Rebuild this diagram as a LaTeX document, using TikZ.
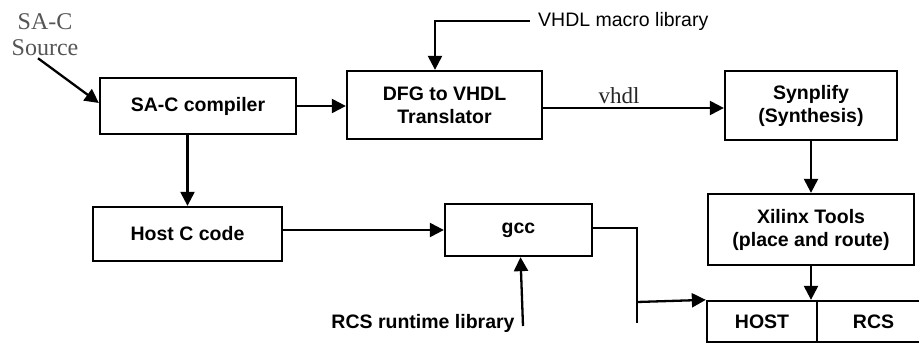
\documentclass[tikz,border=0pt]{standalone}
\usepackage{fontspec}
\setmainfont{Liberation Serif}
\setsansfont{Liberation Sans}
\usetikzlibrary{arrows.meta}
\definecolor{srcgray}{HTML}{555555}
\begin{document}
\begin{tikzpicture}[x=1pt,y=-1pt,
  boxn/.style={draw=black,line width=2.3pt,rectangle,inner sep=0pt,align=center,
    font=\sffamily\bfseries\fontsize{19.5}{23}\selectfont},
  lbl/.style={font=\sffamily\bfseries\fontsize{19.5}{23}\selectfont,inner sep=0pt},
  arr/.style={line width=2.3pt,-{Triangle[length=14pt,width=14pt]}},
  ln/.style={line width=2.3pt}]
\clip (0,0) rectangle (919,343);
\fill[white] (0,0) rectangle (919,343);
% source text
\node[font=\rmfamily\fontsize{24}{26}\selectfont,text=srcgray,align=center,inner sep=0pt] (src) at (45,35) {SA-C\\Source};
% boxes
\node[boxn,minimum width=196pt,minimum height=56pt] (sac) at (198,106) {SA-C compiler};
\node[boxn,minimum width=195pt,minimum height=68pt] (dfg) at (444.5,105) {DFG to VHDL\\Translator};
\node[boxn,minimum width=172pt,minimum height=69pt] (syn) at (811,105.5) {Synplify\\(Synthesis)};
\node[boxn,minimum width=206pt,minimum height=71pt] (xil) at (811,229.5) {Xilinx Tools\\(place and route)};
\node[boxn,minimum width=189pt,minimum height=54pt] (hostc) at (187.5,234) {Host C code};
\node[boxn,minimum width=147pt,minimum height=52pt] (gcc) at (518.5,230) {gcc};
\node[boxn,minimum width=110pt,minimum height=41pt] (hostb) at (762,321.5) {HOST};
\node[boxn,minimum width=113pt,minimum height=41pt] (rcsb) at (873.5,321.5) {RCS};
% labels
\node[font=\sffamily\fontsize{19.5}{23}\selectfont,inner sep=0pt,anchor=west] (vml) at (538,21) {VHDL macro library};
\node[lbl] (rcslib) at (423,323) {RCS runtime library};
% connectors
\draw[arr] ([xshift=-7pt,yshift=-2pt]src.south) -- ([yshift=3pt]sac.west);
\draw[arr] (sac.east) -- (sac.east -| dfg.west);
\draw[arr] ([xshift=-8pt]vml.west) -| ([xshift=-9.5pt]dfg.north);
\draw[arr] ([yshift=-3pt]dfg.east) -- ([yshift=-3pt]dfg.east -| syn.west)
  node[pos=0.42,anchor=base,font=\rmfamily\fontsize{23}{26}\selectfont,text=black!85,inner sep=0pt,yshift=5pt] (vhdl) {vhdl};
\draw[arr] (syn.south) -- (syn.south |- xil.north);
\draw[arr] (xil.south) -- (xil.south |- hostb.north);
\draw[arr] (sac.south -| hostc.north) -- (hostc.north);
\draw[arr] (hostc.east |- gcc.west) -- (gcc.west);
\coordinate (rl) at (523,326);
\draw[arr] (rl) -- ([xshift=2pt]gcc.south);
\coordinate (j1) at (637,302);
\coordinate (j2) at (637,323);
\draw[ln] ([yshift=2pt]gcc.east) -| (j2);
\draw[arr] (j1) -- (hostb.north west);
\end{tikzpicture}
\end{document}
